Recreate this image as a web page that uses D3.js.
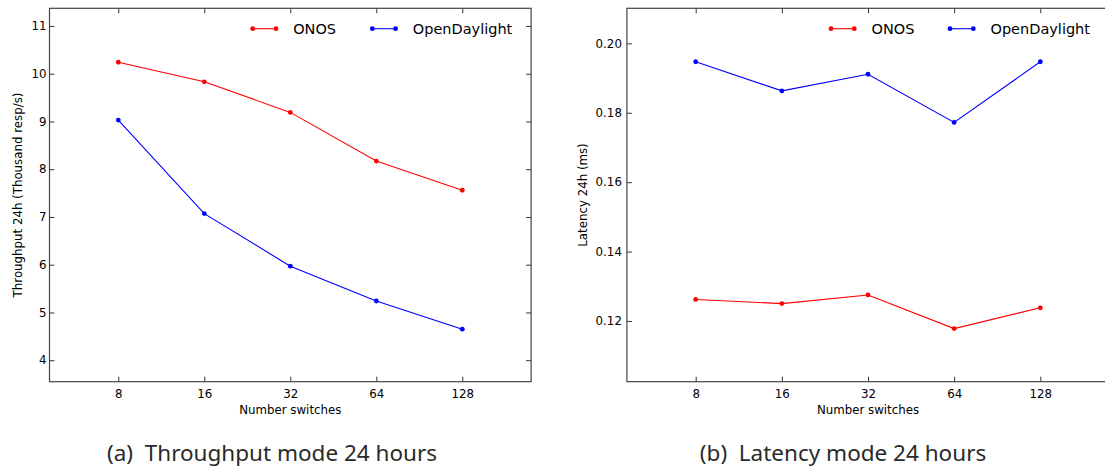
<!DOCTYPE html>
<html>
<head>
<meta charset="utf-8">
<script src="https://cdn.jsdelivr.net/npm/d3@7/dist/d3.min.js"></script>
<style>
  html, body { margin: 0; padding: 0; background: #fff; }
  svg { display: block; }
</style>
</head>
<body>
<svg id="fig" width="1105" height="468"></svg>
<script>
// Number of switches on the x axis
const categories = ["8", "16", "32", "64", "128"];

// Throughput over 24 hours (thousand responses per second)
const throughputONOS = [10.24, 9.83, 9.19, 8.17, 7.56];
const throughputODL  = [9.03, 7.07, 5.97, 5.24, 4.65];

// Latency over 24 hours (ms)
const latencyONOS = [0.1262, 0.1250, 0.1275, 0.1178, 0.1238];
const latencyODL  = [0.1947, 0.1863, 0.1911, 0.1772, 0.1947];

const throughputTicks = [4, 5, 6, 7, 8, 9, 10, 11];
const latencyTicks = [0.12, 0.14, 0.16, 0.18, 0.20];

const seriesNames = ["ONOS", "OpenDaylight"];
const seriesColors = ["#ff0000", "#0000ff"];

const FONT = "DejaVu Sans";
const CAPTION_FONT = "Noto Sans";

const svg = d3.select("#fig");
svg.append("rect").attr("width", 1105).attr("height", 468).attr("fill", "#fff");

function panel(opts) {
  const g = svg.append("g");
  // index positions of the categories; the frame extends past the outer ones
  const x = d3.scaleLinear().domain([0, categories.length - 1]).range([opts.firstTick, opts.lastTick]);
  const y = d3.scaleLinear().domain(opts.yDomain).range([opts.bottom, opts.top]);
  const idx = categories.map((_, i) => i);
  const tickFont = 11.8;

  const bx = g.append("g").attr("transform", `translate(0,${opts.bottom})`)
    .call(d3.axisBottom(x).tickValues(idx).tickFormat(i => categories[i])
      .tickSize(-5).tickPadding(8));
  const tx = g.append("g").attr("transform", `translate(0,${opts.top})`)
    .call(d3.axisTop(x).tickValues(idx).tickFormat("").tickSize(-5));
  const ly = g.append("g").attr("transform", `translate(${opts.left},0)`)
    .call(d3.axisLeft(y).tickValues(opts.yTicks).tickFormat(opts.yFormat)
      .tickSize(-5).tickPadding(opts.yPad));
  const ry = g.append("g").attr("transform", `translate(${opts.right},0)`)
    .call(d3.axisRight(y).tickValues(opts.yTicks).tickFormat("").tickSize(-5));

  [bx, tx, ly, ry].forEach(a => {
    a.select(".domain").remove();
    a.selectAll(".tick line").attr("stroke", "#333").attr("stroke-width", 1);
    a.selectAll("text").attr("font-size", tickFont)
      .style("font-family", FONT).attr("fill", "#000");
  });

  // frame
  g.append("rect")
    .attr("x", opts.left).attr("y", opts.top)
    .attr("width", opts.right - opts.left).attr("height", opts.bottom - opts.top)
    .attr("fill", "none").attr("stroke", "#444").attr("stroke-width", 1.2);

  // axis titles
  g.append("text")
    .attr("x", x(2)).attr("y", opts.bottom + 32)
    .attr("text-anchor", "middle").attr("font-size", 11.8)
    .style("font-family", FONT)
    .text("Number switches");
  g.append("text")
    .attr("transform", `translate(${opts.yLabelX},${(opts.top + opts.bottom) / 2}) rotate(-90)`)
    .attr("text-anchor", "middle").attr("dy", "0.35em").attr("font-size", 11.8)
    .style("font-family", FONT)
    .text(opts.yLabel);

  // series
  const line = d3.line().x((d, i) => x(i)).y(d => y(d));
  opts.series.forEach((vals, s) => {
    g.append("path").datum(vals)
      .attr("d", line).attr("fill", "none")
      .attr("stroke", seriesColors[s]).attr("stroke-width", 1.1);
    g.selectAll(null).data(vals).enter().append("circle")
      .attr("cx", (d, i) => x(i)).attr("cy", d => y(d)).attr("r", 2.4)
      .attr("fill", seriesColors[s]);
  });

  // legend
  const lg = g.append("g");
  seriesNames.forEach((name, s) => {
    const lx = opts.legendX[s];
    const ly0 = 28.7;
    lg.append("line").attr("x1", lx).attr("x2", lx + 23.3)
      .attr("y1", ly0).attr("y2", ly0)
      .attr("stroke", seriesColors[s]).attr("stroke-width", 1.1);
    [lx, lx + 23.3].forEach(cx => lg.append("circle")
      .attr("cx", cx).attr("cy", ly0).attr("r", 2.4).attr("fill", seriesColors[s]));
    lg.append("text").attr("x", lx + 40.5).attr("y", ly0).attr("dy", "0.35em")
      .attr("font-size", 14.5).style("font-family", FONT).text(name);
  });

  // caption
  svg.append("text")
    .attr("x", opts.captionX).attr("y", 461)
    .attr("text-anchor", "middle").attr("font-size", 22.5)
    .style("font-family", CAPTION_FONT).attr("fill", "#2a2a2a")
    .text(opts.caption);
}

panel({
  left: 49.5, right: 531.1, top: 8.3, bottom: 381.7,
  firstTick: 118.3, lastTick: 462.3,
  yDomain: [3.55, 11.37], yTicks: throughputTicks, yFormat: d3.format("d"), yPad: 3,
  yLabel: "Throughput 24h (Thousand resp/s)", yLabelX: 18,
  series: [throughputONOS, throughputODL],
  legendX: [252.7, 372.3],
  caption: "(a)\u00A0\u00A0Throughput mode 24 hours", captionX: 272
});

panel({
  left: 626.9, right: 1114, top: 8.3, bottom: 381.7,
  firstTick: 695.7, lastTick: 1040.3,
  yDomain: [0.1025, 0.2101], yTicks: latencyTicks, yFormat: d3.format(".2f"), yPad: 5,
  yLabel: "Latency 24h (ms)", yLabelX: 583,
  series: [latencyONOS, latencyODL],
  legendX: [831, 950],
  caption: "(b)\u00A0\u00A0Latency mode 24 hours", captionX: 843
});
</script>
</body>
</html>
